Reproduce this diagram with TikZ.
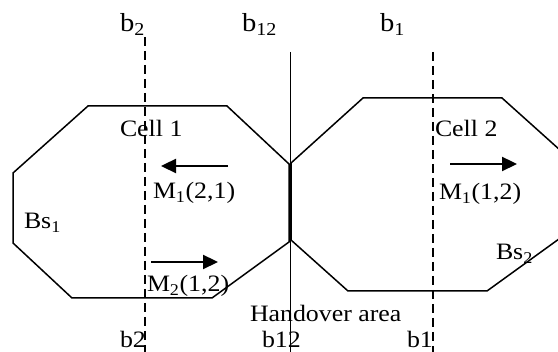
\documentclass[tikz,border=0pt]{standalone}
\usepackage{fontspec}
\setmainfont{Liberation Serif}
\usetikzlibrary{arrows.meta}
\tikzset{
  cellline/.style={line width=1.5pt, line join=miter},
  bline/.style={line width=1.2pt, dash pattern=on 9pt off 5pt},
  solidb/.style={line width=1pt},
  move/.style={line width=2.3pt, -{Triangle[length=15pt,width=14pt]}},
  lbl/.style={anchor=base west, inner sep=0pt, outer sep=0pt, xscale=1.1, transform shape, font=\fontsize{23.5}{26}\selectfont},
  toplbl/.style={lbl, font=\fontsize{26}{29}\selectfont}
}
\begin{document}
\begin{tikzpicture}[x=1pt, y=-1pt]
\clip (0,0) rectangle (558,352);
\fill[white] (0,0) rectangle (558,352);
% cells
\draw[cellline] (88,106) -- (227,106) -- (289,164) -- (289,242) -- (212,298) -- (72,298) -- (13,243) -- (13,173) -- cycle;
\draw[cellline] (291,163) -- (291,240) -- (348,291) -- (487,291) -- (570,231) -- (570,159) -- (502,98) -- (363,98) -- cycle;
% boundaries
\coordinate (b2t) at (145,37);  \coordinate (b2b) at (145,352);
\coordinate (b1t) at (433,52);  \coordinate (b1b) at (433,352);
\coordinate (b12t) at (290,52); \coordinate (b12b) at (290,352);
\draw[bline] (b2t) -- (b2b);
\draw[bline] (b1t) -- (b1b);
\draw[solidb] (b12t) -- (b12b);
% movement arrows
\coordinate (a1s) at (228,166); \coordinate (a1e) at (161,166);
\coordinate (a2s) at (151,262); \coordinate (a2e) at (218,262);
\coordinate (a3s) at (450,164); \coordinate (a3e) at (517,164);
\draw[move] (a1s) -- (a1e);
\draw[move] (a2s) -- (a2e);
\draw[move] (a3s) -- (a3e);
% labels
\node[toplbl] (tb2) at (120,32) {b\textsubscript{2}};
\node[toplbl] (tb12) at (242,32) {b\textsubscript{12}};
\node[toplbl] (tb1) at (380,32) {b\textsubscript{1}};
\node[lbl] (c1) at (120,137) {Cell 1};
\node[lbl] (c2) at (435,137) {Cell 2};
\node[lbl] (m1a) at (153,199) {M\textsubscript{1}(2,1)};
\node[lbl] (m1b) at (439,200) {M\textsubscript{1}(1,2)};
\node[lbl] (m2) at (147,292) {M\textsubscript{2}(1,2)};
\node[lbl] (bs1) at (24,229) {Bs\textsubscript{1}};
\node[lbl] (bs2) at (496,260) {Bs\textsubscript{2}};
\node[lbl] (ho) at (250,322) {Handover area};
\node[lbl] (bb2) at (120,348) {b2};
\node[lbl] (bb12) at (262,348) {b12};
\node[lbl] (bb1) at (407,348) {b1};
\end{tikzpicture}
\end{document}
